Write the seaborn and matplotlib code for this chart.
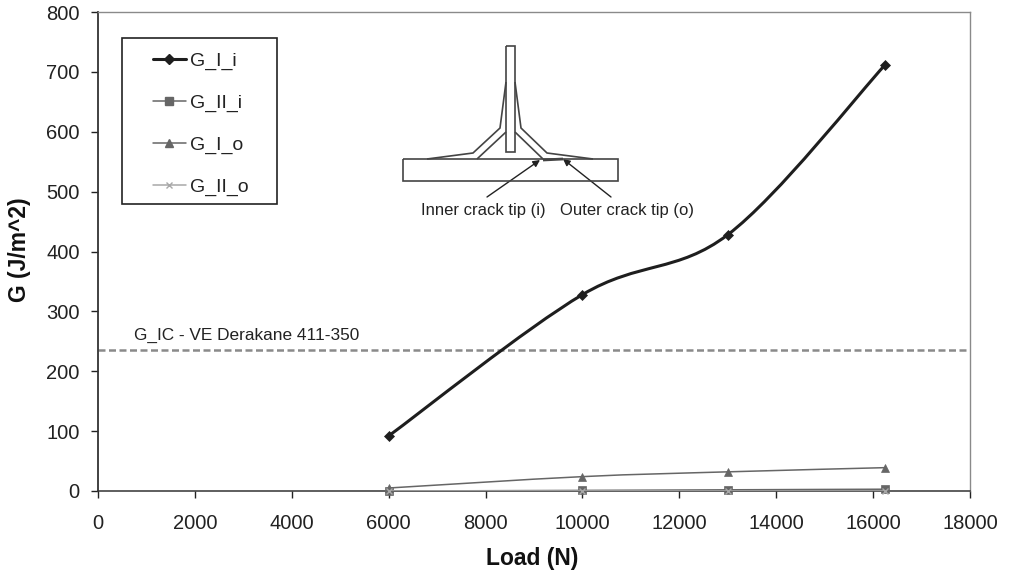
import matplotlib
matplotlib.use("Agg")
import matplotlib.pyplot as plt
import numpy as np
import pandas as pd
import seaborn as sns
from matplotlib.lines import Line2D
from matplotlib.patches import FancyArrowPatch, PathPatch, Rectangle
from matplotlib.path import Path

load_n = [6000, 10000, 13000, 16250]
g_i_i = [92, 328, 428, 712]
g_ii_i = [0, 1, 2, 3]
g_i_o = [5, 24, 32, 39]
g_ii_o = [0, 0, 0, 0]
g_ic = 235

series_names = ["G_I_i", "G_II_i", "G_I_o", "G_II_o"]
series_values = [g_i_i, g_ii_i, g_i_o, g_ii_o]
series_colors = ["#1e1e1e", "#666666", "#666666", "#a8a8a8"]
series_markers = ["D", "s", "^", "x"]
series_sizes = [5, 6, 6, 5]
series_widths = [2.2, 1.1, 1.1, 1.1]

W, H = 1010, 571


def smooth_path(x, y):
    # same kind of smoothing as the spreadsheet line option
    x = np.asarray(x, float)
    y = np.asarray(y, float)
    verts = [(x[0], y[0])]
    codes = [Path.MOVETO]
    for i in range(len(x) - 1):
        x0, y0 = (x[i - 1], y[i - 1]) if i > 0 else (x[i], y[i])
        x3, y3 = (x[i + 2], y[i + 2]) if i + 2 < len(x) else (x[i + 1], y[i + 1])
        verts.append((x[i] + (x[i + 1] - x0) / 6, y[i] + (y[i + 1] - y0) / 6))
        verts.append((x[i + 1] - (x3 - x[i]) / 6, y[i + 1] - (y3 - y[i]) / 6))
        verts.append((x[i + 1], y[i + 1]))
        codes += [Path.CURVE4] * 3
    return Path(verts, codes)


def px_line(fig, xs, ys, lw=1.2, color="#444444"):
    fig.add_artist(Line2D([v / W for v in xs], [1 - v / H for v in ys], lw=lw, color=color,
                          solid_joinstyle="miter", solid_capstyle="butt"))


def draw_inset(fig):
    px_line(fig, [506, 515, 515, 506, 506], [46, 46, 152, 152, 46])
    px_line(fig, [403, 618, 618, 403, 403], [159, 159, 181, 181, 159])
    px_line(fig, [506, 500, 473, 427], [82, 128, 153, 159])
    px_line(fig, [506, 477], [132, 159])
    px_line(fig, [515, 521, 547, 593], [82, 128, 153, 159])
    px_line(fig, [515, 543], [132, 159])
    px_line(fig, [543, 563], [160, 159], lw=2)
    for start, end in [((487, 197), (540, 160)), ((611, 197), (563, 159))]:
        fig.add_artist(FancyArrowPatch(
            (start[0] / W, 1 - start[1] / H), (end[0] / W, 1 - end[1] / H),
            transform=fig.transFigure, arrowstyle="-|>", mutation_scale=10,
            lw=1.0, color="#222222", shrinkA=0, shrinkB=0))
    fig.text(421 / W, 1 - 210.5 / H, "Inner crack tip (i)", fontsize=12, va="center", color="#222222")
    fig.text(560 / W, 1 - 210.5 / H, "Outer crack tip (o)", fontsize=12, va="center", color="#222222")


sns.set_style("ticks")
plt.rcParams["font.family"] = ["Liberation Sans", "DejaVu Sans"]

fig = plt.figure(figsize=(W / 100, H / 100), dpi=100)
ax = fig.add_axes([98 / W, 1 - 491 / H, 872 / W, 479 / H])

df = pd.DataFrame({"load": load_n})
for i in range(len(series_names) - 1, -1, -1):
    name = series_names[i]
    df[name] = series_values[i]
    ax.add_patch(PathPatch(smooth_path(load_n, series_values[i]), fill=False,
                           edgecolor=series_colors[i], lw=series_widths[i], zorder=2 + i))
    sns.lineplot(data=df, x="load", y=name, ax=ax, color=series_colors[i], linestyle="",
                 marker=series_markers[i], markersize=series_sizes[i],
                 markeredgecolor=series_colors[i], markeredgewidth=1 if i == 3 else 0.5,
                 errorbar=None, legend=False, zorder=2 + i, clip_on=False)

handles = []
for i, name in enumerate(series_names):
    handles.append(Line2D([], [], color=series_colors[i], lw=series_widths[i], marker=series_markers[i],
                          markersize=series_sizes[i], label=name))

ax.axhline(g_ic, color="#8a8a8a", lw=1.8, ls=(0, (2.8, 1.4)), zorder=1)
fig.text(134 / W, 1 - 335 / H, "G_IC - VE Derakane 411-350", fontsize=12.4, va="center", color="#222222")

ax.set_xlim(0, 18000)
ax.set_ylim(0, 800)
ax.set_xticks(range(0, 18001, 2000))
ax.set_yticks(range(0, 801, 100))
ax.tick_params(axis="both", labelsize=14.5, length=5.2, width=1, color="#222222", labelcolor="#222222")
ax.tick_params(axis="x", pad=11.5)
ax.tick_params(axis="y", pad=8)
ax.set_xlabel("Load (N)", fontsize=16.5, fontweight="bold", color="#111111", va="center")
ax.set_ylabel("G (J/m^2)", fontsize=16.5, fontweight="bold", color="#111111", va="center")
ax.xaxis.set_label_coords(0.498, (491 - 558) / 479)
ax.yaxis.set_label_coords((20 - 98) / 872, (491 - 250) / 479)

for side in ["top", "right"]:
    ax.spines[side].set_visible(True)
    ax.spines[side].set_color("#8a8a8a")
    ax.spines[side].set_linewidth(1)
ax.spines["left"].set_color("#333333")
ax.spines["left"].set_linewidth(1.3)
ax.spines["bottom"].set_color("#333333")
ax.spines["bottom"].set_linewidth(1.1)

leg = ax.legend(handles=handles, loc="upper left", bbox_to_anchor=(153 / W, 1 - 52 / H),
                bbox_transform=fig.transFigure, fontsize=14, frameon=False, borderaxespad=0,
                borderpad=0, labelspacing=1.25, handlelength=1.68, handletextpad=0.2,
                labelcolor="#222222")
fig.add_artist(Rectangle((122 / W, 1 - 204 / H), 155 / W, 166 / H, transform=fig.transFigure,
                         fill=False, edgecolor="#222222", lw=1.2))

draw_inset(fig)

fig.savefig("out.png", dpi=100)
